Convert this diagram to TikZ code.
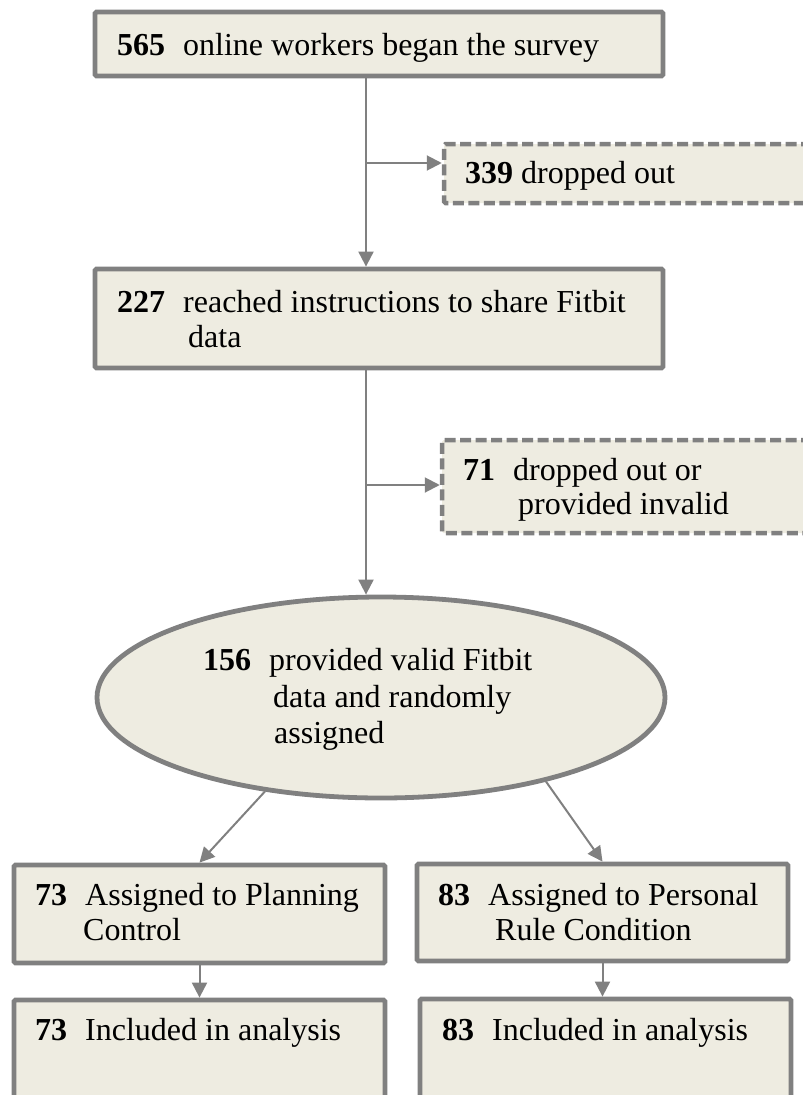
\documentclass[tikz,border=0pt]{standalone}
\usepackage{fontspec}
\setmainfont{Liberation Serif}
\usetikzlibrary{arrows.meta,shapes.geometric}
\definecolor{edgegray}{HTML}{808080}
\definecolor{boxfill}{HTML}{EEECE1}
\tikzset{
  solidbox/.style={draw=edgegray, fill=boxfill, line width=4.8pt, rounded corners=1.5pt, inner sep=0pt},
  dashbox/.style={draw=edgegray, fill=boxfill, line width=4.5pt, dash pattern=on 11pt off 4.5pt, rounded corners=1.5pt, inner sep=0pt},
  ellbox/.style={draw=edgegray, fill=boxfill, line width=4.8pt, ellipse, inner sep=0pt},
  txt/.style={anchor=base west, inner sep=0pt, font=\fontsize{32pt}{36pt}\selectfont},
  conn/.style={draw=edgegray, line width=2pt},
  arr/.style={conn, -{Triangle[length=15pt, width=15pt]}},
}
\newcommand{\gap}{\hspace{18pt}}
\begin{document}
\begin{tikzpicture}[x=1pt, y=-1pt]
\useasboundingbox (0,0) rectangle (803,1095);
% boxes
\node[solidbox, minimum width=568pt, minimum height=64pt] (top) at (379,44) {};
\node[dashbox, minimum width=416pt, minimum height=59pt] (d1) at (652,173.5) {};
\node[solidbox, minimum width=568pt, minimum height=99pt] (b2) at (379,318.5) {};
\node[dashbox, minimum width=418pt, minimum height=93pt] (d2) at (651,486.5) {};
\node[ellbox, minimum width=568pt, minimum height=201pt] (ell) at (381,697.5) {};
\node[solidbox, minimum width=371pt, minimum height=98pt] (lb1) at (199.5,914) {};
\node[solidbox, minimum width=371pt, minimum height=97pt] (rb1) at (602.5,912.5) {};
\node[solidbox, minimum width=371pt, minimum height=120pt] (lb2) at (199.5,1060) {};
\node[solidbox, minimum width=371pt, minimum height=120pt] (rb2) at (605.5,1059) {};
% texts
\node[txt] (ttop) at (117,55) {\textbf{565}\gap online workers began the survey};
\node[txt] (td1) at (465,183) {\textbf{339} dropped out};
\node[txt] (tb2a) at (117,312) {\textbf{227}\gap reached instructions to share Fitbit};
\node[txt] (tb2b) at (188,347) {data};
\node[txt] (td2a) at (463,480) {\textbf{71}\gap dropped out or};
\node[txt] (td2b) at (518,514) {provided invalid};
\node[txt] (tea) at (203,670) {\textbf{156}\gap provided valid Fitbit};
\node[txt] (teb) at (273,707) {data and randomly};
\node[txt] (tec) at (274,743) {assigned};
\node[txt] (tl1a) at (35,905) {\textbf{73}\gap Assigned to Planning};
\node[txt] (tl1b) at (83,940) {Control};
\node[txt] (tr1a) at (438,905) {\textbf{83}\gap Assigned to Personal};
\node[txt] (tr1b) at (495,940) {Rule Condition};
\node[txt] (tl2) at (35,1040) {\textbf{73}\gap Included in analysis};
\node[txt] (tr2) at (442,1040) {\textbf{83}\gap Included in analysis};
% connectors
\coordinate (vx) at (366,0);
\coordinate (j1) at (366,163);
\coordinate (j2) at (366,485);
\draw[arr] (top.south -| vx) -- (b2.north -| vx);
\draw[arr] (j1) -- (j1 -| d1.west);
\draw[arr] (b2.south -| vx) -- (ell.north -| vx);
\draw[arr] (j2) -- (j2 -| d2.west);
\draw[arr] (ell.219) -- (lb1.north);
\draw[arr] (ell.333) -- (rb1.north);
\draw[arr] (lb1.south) -- (lb2.north -| lb1.south);
\draw[arr] (rb1.south) -- (rb2.north -| rb1.south);
\end{tikzpicture}
\end{document}
